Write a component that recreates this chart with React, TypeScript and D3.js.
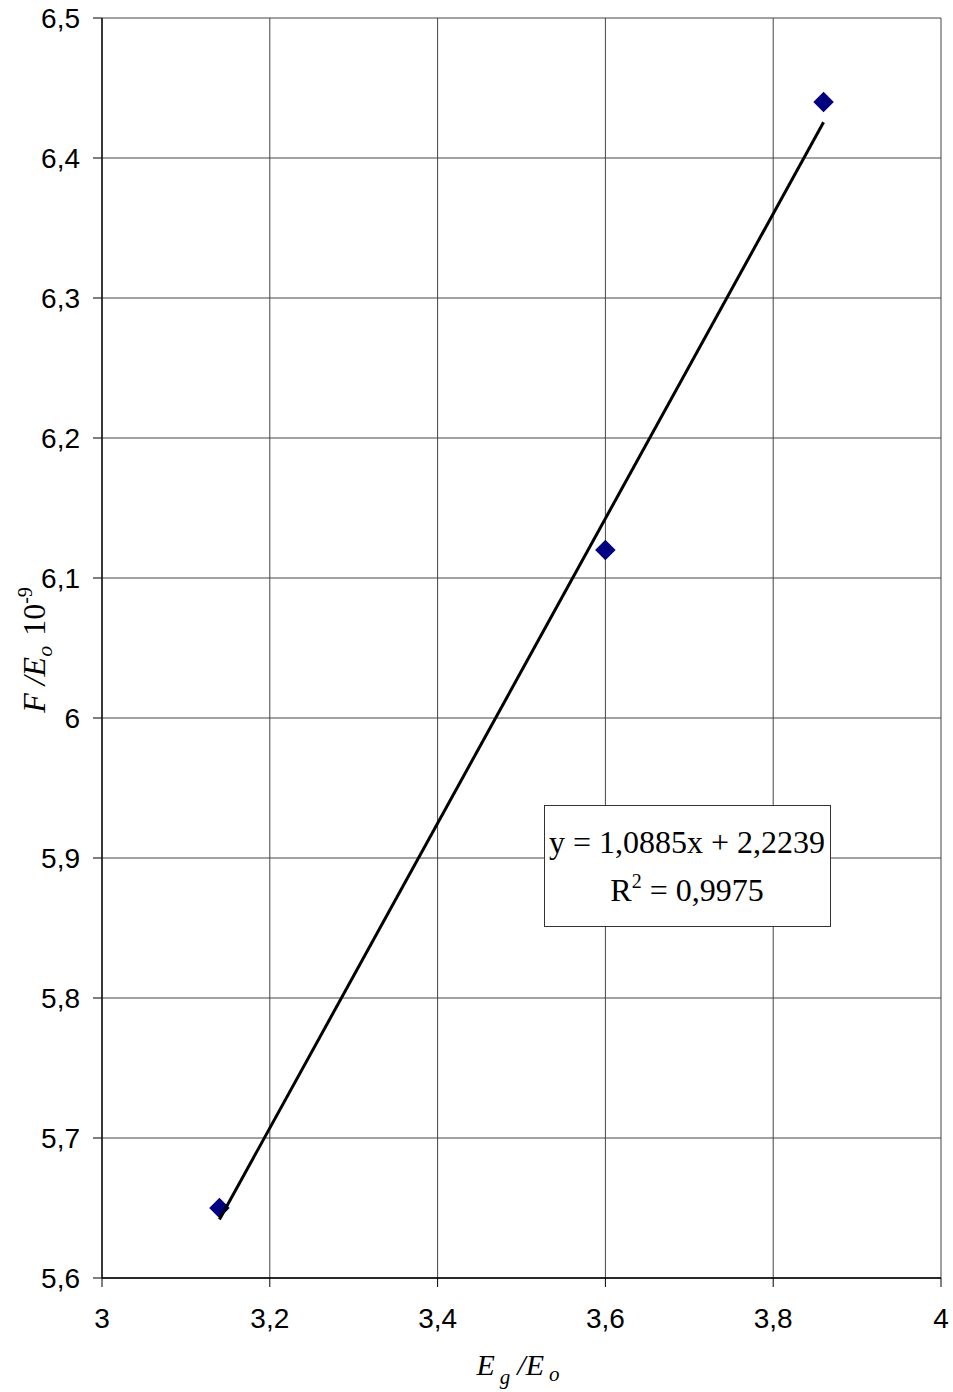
import React from "react";
import * as d3 from "d3";

const xValues = [3.14, 3.6, 3.86];
const yValues = [5.65, 6.12, 6.44];
const xTicks = [3, 3.2, 3.4, 3.6, 3.8, 4];
const yTicks = [5.6, 5.7, 5.8, 5.9, 6, 6.1, 6.2, 6.3, 6.4, 6.5];
const slope = 1.0885;
const intercept = 2.2239;
const rSquared = "0,9975";
const trendRange = [3.14, 3.86];

const fmt = (v: number) => String(+v.toFixed(2)).replace(".", ",");

export default function App() {
  const W = 953, H = 1392;
  const x = d3.scaleLinear().domain([3, 4]).range([102, 941]);
  const y = d3.scaleLinear().domain([5.6, 6.5]).range([1278, 18]);
  const line = d3.line<number>().x((d) => x(d)).y((d) => y(slope * d + intercept));
  const diamond = d3.symbol().type(d3.symbolSquare).size(210)();
  const axisFont = "Arial, 'Liberation Sans', sans-serif";
  const serif = "'Times New Roman', 'Liberation Serif', serif";
  return (
    <svg width={W} height={H} style={{ position: "absolute", left: 0, top: 0 }}>
      <rect width={W} height={H} fill="#fff" />
      {yTicks.map((t) => (
        <g key={"y" + t}>
          <line x1={x(3)} x2={x(4)} y1={y(t)} y2={y(t)} stroke="#444" strokeWidth={1} />
          <line x1={x(3) - 9} x2={x(3)} y1={y(t)} y2={y(t)} stroke="#000" strokeWidth={1} />
          <text x={80} y={y(t)} dy="0.36em" textAnchor="end" fontFamily={axisFont} fontSize={28}>
            {fmt(t)}
          </text>
        </g>
      ))}
      {xTicks.map((t) => (
        <g key={"x" + t}>
          <line x1={x(t)} x2={x(t)} y1={y(6.5)} y2={y(5.6)} stroke="#444" strokeWidth={1} />
          <line x1={x(t)} x2={x(t)} y1={y(5.6)} y2={y(5.6) + 9} stroke="#000" strokeWidth={1} />
          <text x={x(t)} y={1328} textAnchor="middle" fontFamily={axisFont} fontSize={28}>
            {fmt(t)}
          </text>
        </g>
      ))}
      <line x1={x(3)} x2={x(3)} y1={y(6.5)} y2={y(5.6)} stroke="#000" strokeWidth={1.3} />
      <line x1={x(3)} x2={x(4)} y1={y(5.6)} y2={y(5.6)} stroke="#000" strokeWidth={1.3} />
      {xValues.map((xv, i) => (
        <path
          key={"p" + i}
          d={diamond as string}
          transform={`translate(${x(xv)},${y(yValues[i])}) rotate(45)`}
          fill="#000080"
        />
      ))}
      <path d={line(trendRange) as string} stroke="#000" strokeWidth={3} fill="none" />
      <rect x={544.5} y={805.5} width={286} height={121} fill="#fff" stroke="#333" strokeWidth={1} />
      <text x={687} y={853} textAnchor="middle" fontFamily={serif} fontSize={32}>
        y = 1,0885x + 2,2239
      </text>
      <text x={687} y={901} textAnchor="middle" fontFamily={serif} fontSize={32}>
        R<tspan dy={-13} fontSize={20}>2</tspan>
        <tspan dy={13}> = {rSquared}</tspan>
      </text>
      <text
        transform={`translate(45,650) rotate(-90)`}
        textAnchor="middle"
        fontFamily={serif}
        fontSize={32}
      >
        <tspan fontStyle="italic">F /E</tspan>
        <tspan fontStyle="italic" fontSize={22} dy={7}>o</tspan>
        <tspan dx={10} dy={-7}>10</tspan>
        <tspan fontSize={20} dy={-13}>-9</tspan>
      </text>
      <text x={518} y={1375} textAnchor="middle" fontFamily={serif} fontSize={30} fontStyle="italic">
        E<tspan fontSize={21} dx={5} dy={9}>g</tspan>
        <tspan dx={7} dy={-9}>/E</tspan>
        <tspan fontSize={21} dx={5} dy={6}>o</tspan>
      </text>
    </svg>
  );
}
